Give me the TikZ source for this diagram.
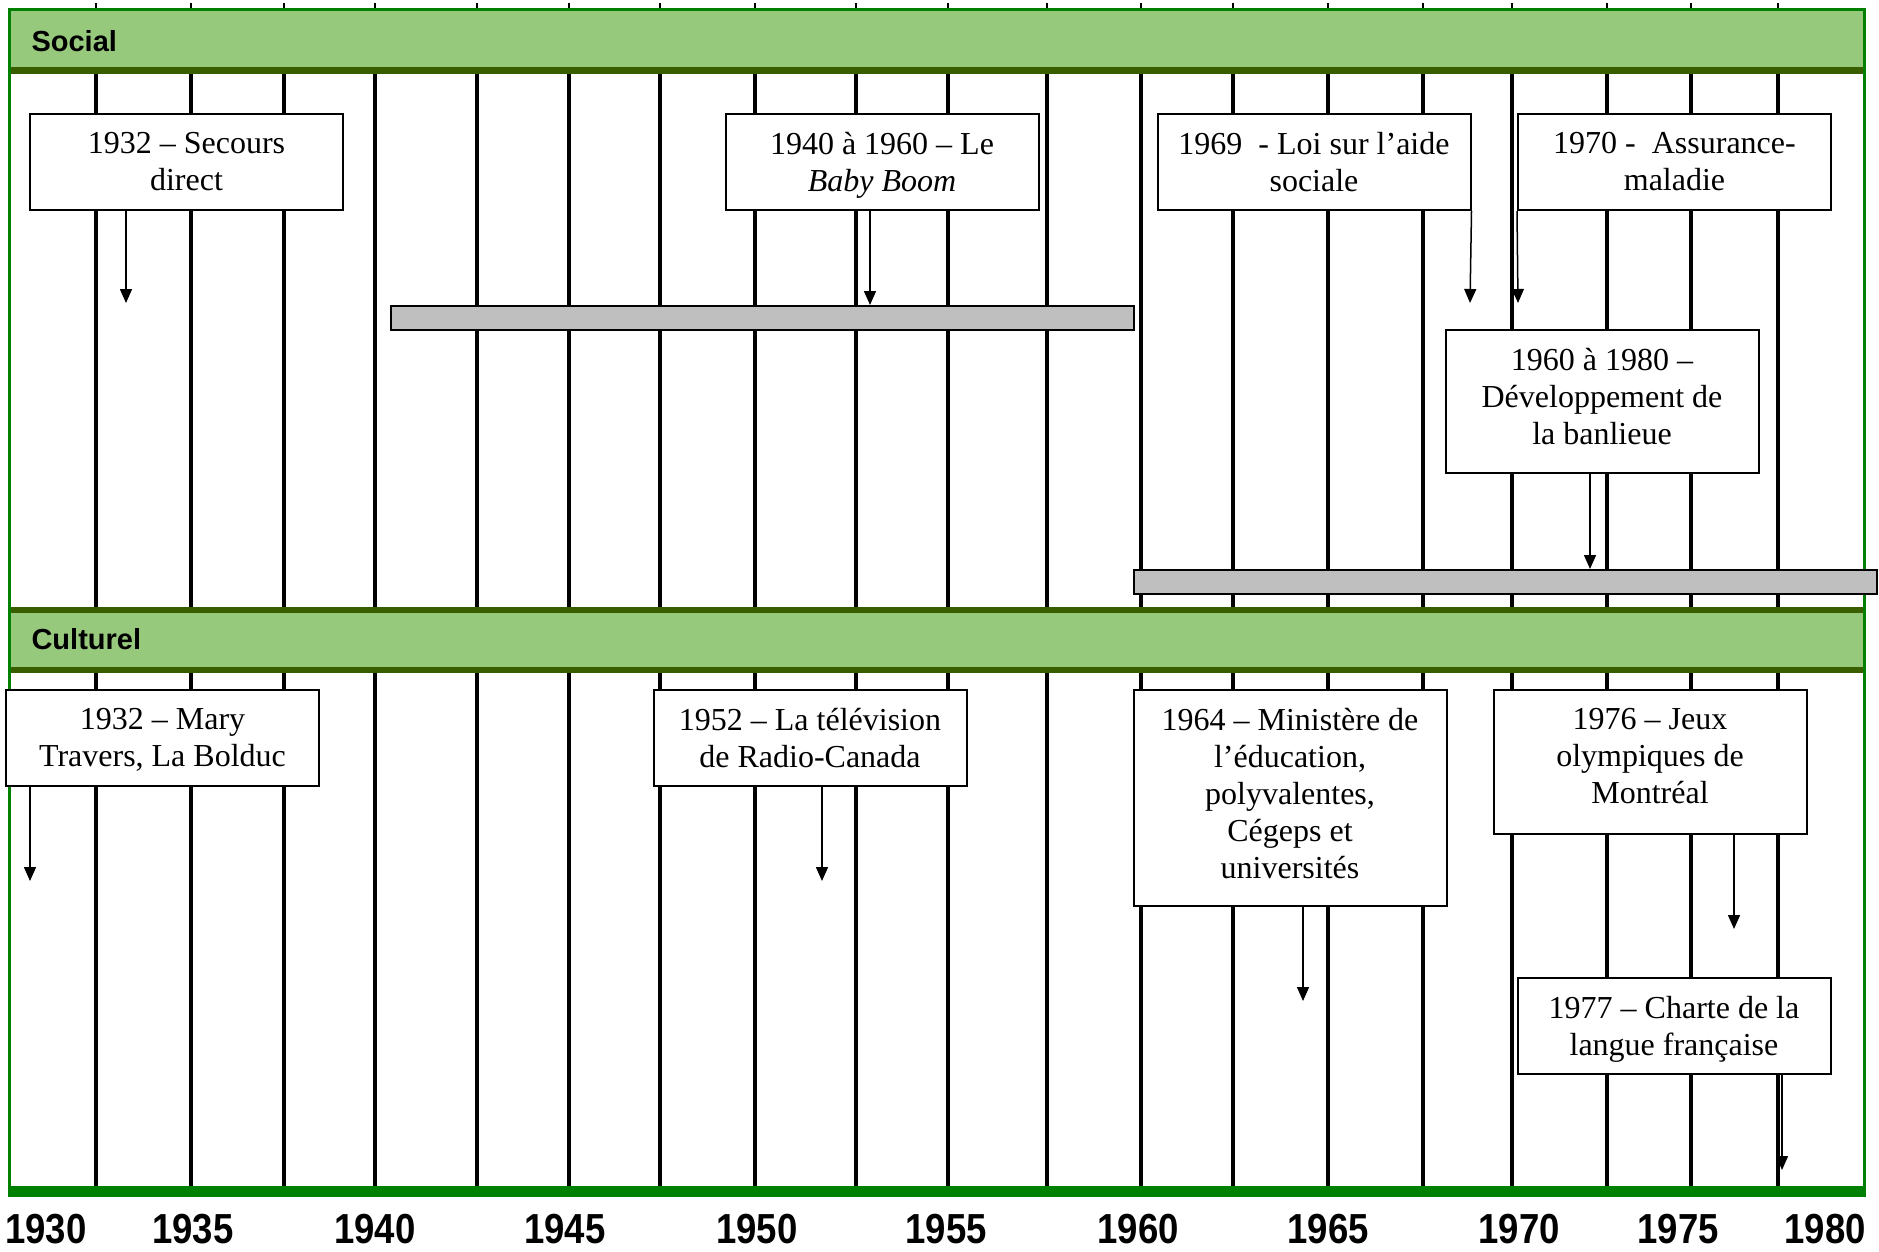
\documentclass[tikz,border=0pt]{standalone}
\usepackage{fontspec}
\setmainfont{Liberation Serif}
\newfontfamily\headfont{Liberation Sans}
\usetikzlibrary{arrows.meta}
\definecolor{bandgreen}{RGB}{151,201,125}
\definecolor{banddark}{RGB}{56,94,0}
\definecolor{framegreen}{RGB}{0,128,0}
\begin{document}
\begin{tikzpicture}[x=1pt,y=-1pt,
  event/.style={draw,line width=2pt,fill=white,inner sep=0pt,minimum width=313,minimum height=96},
  eventtext/.style={anchor=north,yshift=-19.5pt,inner sep=0pt,align=center,
    font=\fontsize{32}{37}\selectfont,execute at begin node=\strut,execute at end node=\strut},
  period/.style={draw,line width=2pt,fill=black!25,inner sep=0pt,minimum height=24},
  pointer/.style={line width=1.5pt,-{Triangle[width=12pt,length=14pt]}},
  yearline/.style={line width=4pt},
  heading/.style={anchor=west,font=\headfont\bfseries\fontsize{29}{29}\selectfont},
  yearlabel/.style={font=\headfont\bfseries\fontsize{42}{42}\selectfont}]
  \useasboundingbox[fill=white] (0,0) rectangle (1879,1251);
  \fill[bandgreen] (11,11) rectangle (1863,68);
  \fill[banddark] (11,67) rectangle (1863,74);
  \fill[banddark] (11,607) rectangle (1863,613);
  \fill[bandgreen] (11,613) rectangle (1863,667);
  \fill[banddark] (11,667) rectangle (1863,673);
  \draw[framegreen,line width=3pt] (9.5,9.5) rectangle (1864.5,1190);
  \fill[framegreen] (8,1186) rectangle (1866,1197);
  \node[heading] (social) at (28,41) {Social};
  \node[heading] (culturel) at (28,639) {Culturel};
  \foreach \xl in {96,191,284,375,477,569,660,755,856,948,1047,1141,1233,1328,1423,1512,1607,1691,1778} {
    \draw[yearline] (\xl,74) -- (\xl,607);
    \draw[yearline] (\xl,673) -- (\xl,1186);
    \draw[line width=1.5pt] (\xl,3) -- (\xl,8);
  }
  \foreach \yr/\xp in {1930/46,1935/193,1940/375,1945/565,1950/757,1955/946,1960/1138,1965/1328,1970/1519,1975/1678,1980/1825}
    \node[yearlabel] (y\yr) at (\xp,1229) {\scalebox{.87}[1]{\yr}};

  \node[period,minimum width=743] (boom) at (762.5,318) {};
  \node[period,minimum width=743] (suburb) at (1505.5,582) {};

  \node[event] (secours) at (186.5,162) {};
  \node[event] (babyboom) at (882,162) {};
  \node[event] (aidesociale) at (1314,162) {};
  \node[event] (assurance) at (1674.5,162) {};
  \node[event,minimum height=143] (banlieue) at (1602,401.5) {};
  \node[event] (bolduc) at (162.5,738) {};
  \node[event] (television) at (810,738) {};
  \node[event,minimum height=216] (ministere) at (1290,798) {};
  \node[event,minimum height=144] (jeux) at (1650,762) {};
  \node[event] (charte) at (1674,1026) {};

  \node[eventtext] (secourstxt) at (secours.north) {1932 -- Secours\\direct};
  \node[eventtext] (babyboomtxt) at (babyboom.north) {1940 à 1960 -- Le\\\textit{Baby Boom}};
  \node[eventtext] (aidesocialetxt) at (aidesociale.north) {1969 \ - Loi sur l’aide\\sociale};
  \node[eventtext] (assurancetxt) at (assurance.north) {1970 - \ Assurance-\\maladie};
  \node[eventtext] (banlieuetxt) at (banlieue.north) {1960 à 1980 --\\Développement de\\la banlieue};
  \node[eventtext] (bolductxt) at (bolduc.north) {1932 -- Mary\\Travers, La Bolduc};
  \node[eventtext] (televisiontxt) at (television.north) {1952 -- La télévision\\de Radio-Canada};
  \node[eventtext] (ministeretxt) at (ministere.north) {1964 -- Ministère de\\l’éducation,\\polyvalentes,\\Cégeps et\\universités};
  \node[eventtext] (jeuxtxt) at (jeux.north) {1976 -- Jeux\\olympiques de\\Montréal};
  \node[eventtext] (chartetxt) at (charte.north) {1977 -- Charte de la\\langue française};

  \coordinate (t1) at (126,303);
  \coordinate (t2) at (870,0);
  \coordinate (t3) at (1470,303);
  \coordinate (t4) at (1518,303);
  \coordinate (t5) at (1590,0);
  \coordinate (t6) at (30,881);
  \coordinate (t7) at (822,881);
  \coordinate (t8) at (1303,1001);
  \coordinate (t9) at (1734,929);
  \coordinate (t10) at (1782,1170);
  \draw[pointer] (t1 |- secours.south) -- (t1);
  \draw[pointer] (t2 |- babyboom.south) -- (t2 |- boom.north);
  \draw[pointer] (aidesociale.south east) -- (t3);
  \draw[pointer] (assurance.south west) -- (t4);
  \draw[pointer] (t5 |- banlieue.south) -- (t5 |- suburb.north);
  \draw[pointer] (t6 |- bolduc.south) -- (t6);
  \draw[pointer] (t7 |- television.south) -- (t7);
  \draw[pointer] (t8 |- ministere.south) -- (t8);
  \draw[pointer] (t9 |- jeux.south) -- (t9);
  \draw[pointer] (t10 |- charte.south) -- (t10);
\end{tikzpicture}
\end{document}
